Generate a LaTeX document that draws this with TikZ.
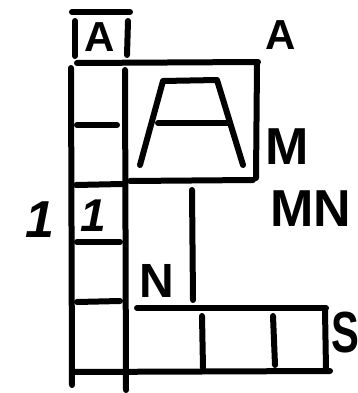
\documentclass[tikz,border=0pt]{standalone}
\usepackage{fontspec}
\setmainfont{Liberation Sans}
\begin{document}
\begin{tikzpicture}[x=1pt,y=-1pt,
  ink/.style={line width=6pt,line cap=round,line join=round,black},
  lbl/.style={inner sep=0pt,anchor=center},
  fa/.style={font=\fontsize{42}{42}\selectfont\bfseries},
  fb/.style={font=\fontsize{52}{52}\selectfont\bfseries}]
\useasboundingbox (0,0) rectangle (358,393);
% top small A box
\draw[ink] (72,12) -- (130,12);
\draw[ink] (75,21) -- (75,56);
\draw[ink] (128,21) -- (127,55);
% left column
\draw[ink] (71,68) -- (72,385);
\draw[ink] (125,70) -- (126,390);
\draw[ink] (77,63) -- (258,62);
\draw[ink] (77,125) -- (117,125);
\draw[ink] (76,185) -- (122,184);
\draw[ink] (77,242) -- (120,242);
\draw[ink] (77,302) -- (120,301);
% big box
\draw[ink] (257,64) -- (256,178);
\draw[ink] (130,181) -- (253,180);
% trapezoid A
\draw[ink] (140,165) -- (163,81) -- (217,80) -- (243,165);
\draw[ink] (158,123) -- (229,123);
% stem
\draw[ink] (192,190) -- (193,300);
% S box
\draw[ink] (137,308) -- (326,308);
\draw[ink] (325,310) -- (326,370);
\draw[ink] (72,372) -- (330,371);
\draw[ink] (202,316) -- (203,368);
\draw[ink] (273,316) -- (275,365);
% labels
\node[lbl,fa] (la) at (100,37) {A};
\node[lbl,fa] (ra) at (281,35) {A};
\node[lbl,fb] (m) at (287,147) {M};
\node[lbl,fb] (mn) at (311,209) {MN};
\node[lbl,fb] (one) at (40,220) {\itshape 1};
\node[lbl,font=\fontsize{46}{46}\selectfont\bfseries] (onein) at (93,216) {\itshape 1};
\node[lbl,font=\fontsize{48}{48}\selectfont\bfseries] (n) at (157,281) {N};
\node[lbl,font=\fontsize{58}{58}\selectfont\bfseries] (s) at (345,333) {\scalebox{0.72}[1]{S}};
\end{tikzpicture}
\end{document}
